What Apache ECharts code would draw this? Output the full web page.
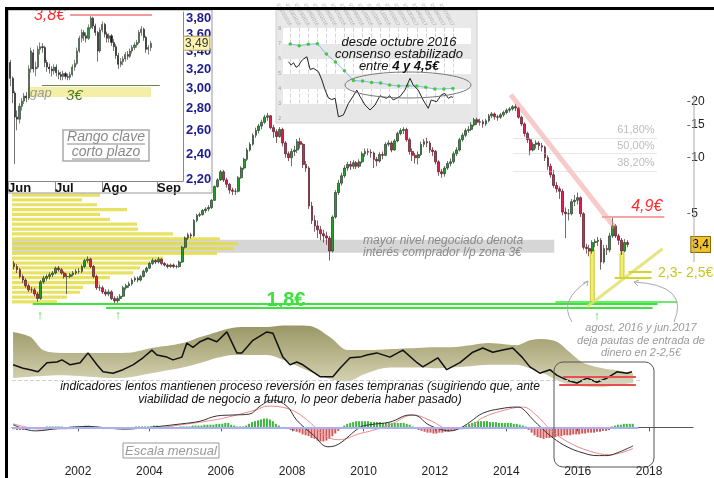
<!DOCTYPE html>
<html>
<head>
<meta charset="utf-8">
<title>Escala mensual</title>
<script src="https://cdn.jsdelivr.net/npm/echarts@6/dist/echarts.min.js"></script>
<style>
  html, body { margin: 0; padding: 0; background: #fff; }
  #chart { width: 714px; height: 478px; }
</style>
</head>
<body>
<div id="chart"></div>
<script>
// velas mensuales desde marzo 2000: [apertura, cierre, minimo, maximo]
const firstMonth = 2000 + 2 / 12
const monthly = [
  [2.70,2.60,2.50,2.80],[2.60,2.50,2.40,2.68],[2.50,2.30,2.25,2.55],[2.30,2.20,2.12,2.36],[2.20,2.05,2.00,2.25],
  [2.05,1.95,1.90,2.10],[1.95,1.95,1.88,2.02],[1.95,1.85,1.80,2.00],[1.85,1.75,1.68,1.90],[1.75,2.15,1.72,2.20],
  // 2001
  [2.15,2.25,2.10,2.32],[2.25,2.30,2.18,2.36],[2.30,2.35,2.22,2.42],[2.35,2.40,2.28,2.46],[2.40,2.55,2.36,2.60],[2.55,2.50,2.44,2.62],
  [2.50,2.40,2.35,2.55],[2.40,2.30,2.24,2.45],[2.30,2.30,1.85,2.38],[2.30,2.35,2.25,2.40],[2.35,2.40,2.30,2.46],[2.40,2.45,2.34,2.52],
  // 2002
  [2.45,2.45,2.38,2.55],[2.45,2.60,2.40,2.66],[2.60,2.80,2.55,2.86],[2.80,2.85,2.72,2.95],[2.85,2.60,2.55,2.90],[2.60,2.30,2.25,2.65],
  [2.30,2.00,1.95,2.35],[2.00,2.00,1.92,2.08],[2.00,1.90,1.85,2.05],[1.90,1.85,1.80,1.96],[1.85,1.90,1.80,1.96],[1.90,1.75,1.72,1.94],
  // 2003
  [1.75,1.70,1.62,1.80],[1.70,1.75,1.66,1.80],[1.75,1.80,1.70,1.85],[1.80,2.00,1.78,2.05],[2.00,2.05,1.95,2.10],[2.05,2.10,2.00,2.16],
  [2.10,2.20,2.05,2.25],[2.20,2.25,2.15,2.30],[2.25,2.20,2.14,2.30],[2.20,2.30,2.16,2.35],[2.30,2.45,2.27,2.50],[2.45,2.55,2.40,2.60],
  // 2004
  [2.55,2.70,2.52,2.76],[2.70,2.80,2.65,2.88],[2.80,2.75,2.68,2.85],[2.75,2.85,2.70,2.92],[2.85,2.70,2.64,2.88],[2.70,2.65,2.60,2.75],
  [2.65,2.60,2.54,2.70],[2.60,2.65,2.56,2.70],[2.65,2.60,2.55,2.70],[2.60,2.60,2.54,2.66],[2.60,2.75,2.56,2.80],[2.75,3.30,2.72,3.36],
  // 2005
  [3.30,3.70,3.25,3.78],[3.70,3.85,3.62,3.95],[3.85,3.80,3.68,3.95],[3.80,4.60,3.75,4.68],[4.60,4.90,4.50,5.00],[4.90,4.95,4.80,5.08],
  [4.95,5.20,4.88,5.30],[5.20,5.30,5.05,5.42],[5.30,5.40,5.15,5.55],[5.40,5.90,5.30,6.00],[5.90,7.00,5.85,7.10],[7.00,7.60,6.90,7.75],
  // 2006
  [7.60,8.40,7.50,8.60],[8.40,7.60,7.40,8.60],[7.60,7.20,6.90,7.80],[7.20,6.70,6.40,7.30],[6.70,6.60,6.30,6.90],[6.60,6.60,6.30,6.85],
  [6.60,7.80,6.50,7.95],[7.80,8.80,7.70,9.00],[8.80,9.80,8.60,10.0],[9.80,11.0,9.60,11.3],[11.0,11.8,10.8,12.1],[11.8,13.2,11.6,13.5],
  // 2007
  [13.2,14.0,12.8,14.5],[14.0,14.8,13.5,15.2],[14.8,15.5,14.2,16.0],[15.5,16.5,15.2,17.0],[16.5,16.8,15.8,17.4],[16.8,14.5,14.2,17.0],
  [14.5,13.8,12.8,15.0],[13.8,13.0,12.0,14.2],[13.0,14.2,12.8,14.6],[14.2,12.0,11.5,14.5],[12.0,10.5,10.0,12.3],[10.5,10.0,9.6,10.8],
  // 2008
  [10.0,10.8,9.0,11.2],[10.8,11.0,10.2,11.6],[11.0,12.2,10.6,12.6],[12.2,11.8,11.2,12.8],[11.8,9.2,8.8,12.0],[9.2,8.8,8.4,9.6],
  [8.8,5.5,5.3,9.0],[5.5,4.6,4.4,5.8],[4.6,4.3,4.0,4.9],[4.3,4.1,3.7,4.6],[4.1,3.9,3.6,4.3],[3.9,3.8,3.5,4.1],
  // 2009
  [3.8,3.7,3.4,4.0],[3.7,3.15,2.8,3.8],[3.15,4.8,3.1,4.9],[4.8,6.5,4.7,6.7],[6.5,7.3,6.3,7.6],[7.3,8.0,7.1,8.3],
  [8.0,8.8,7.8,9.1],[8.8,9.2,8.5,9.5],[9.2,9.0,8.6,9.6],[9.0,9.4,8.7,9.7],[9.4,9.0,8.7,9.6],[9.0,9.5,8.8,9.8],
  // 2010
  [9.5,10.5,9.3,10.8],[10.5,10.8,10.1,11.2],[10.8,10.7,10.3,11.2],[10.7,10.6,10.0,11.1],[10.6,9.8,8.8,10.8],[9.8,9.6,9.0,10.1],
  [9.6,10.4,9.4,10.7],[10.4,10.3,9.8,10.8],[10.3,11.8,10.2,12.1],[11.8,12.0,11.5,12.4],[12.0,11.0,10.7,12.3],[11.0,12.3,10.9,12.6],
  // 2011
  [12.3,13.5,12.1,13.8],[13.5,14.0,13.2,14.4],[14.0,14.2,13.4,14.6],[14.2,12.5,12.2,14.5],[12.5,10.8,10.4,12.8],[10.8,10.3,9.6,11.2],
  [10.3,10.0,9.3,10.6],[10.0,10.4,9.2,10.8],[10.4,11.8,10.2,12.2],[11.8,12.2,11.4,12.6],[12.2,12.0,11.4,12.8],[12.0,11.0,10.6,12.3],
  // 2012
  [11.0,10.8,10.2,11.4],[10.8,9.5,9.2,11.0],[9.5,8.4,8.0,9.7],[8.4,8.2,7.8,8.7],[8.2,8.8,7.9,9.0],[8.8,9.3,8.6,9.6],
  [9.3,9.5,9.0,9.9],[9.5,10.5,9.3,10.8],[10.5,11.0,10.2,11.4],[11.0,12.5,10.8,12.8],[12.5,13.2,12.2,13.6],[13.2,14.0,12.9,14.4],
  // 2013
  [14.0,14.2,13.6,14.8],[14.2,15.0,13.9,15.5],[15.0,16.0,14.7,16.4],[16.0,15.5,15.0,16.4],[15.5,15.6,14.9,16.2],[15.6,15.2,14.5,16.0],
  [15.2,15.8,14.8,16.2],[15.8,16.8,15.5,17.2],[16.8,17.2,16.3,17.6],[17.2,16.6,16.0,17.5],[16.6,16.5,15.8,17.0],[16.5,17.0,16.2,17.4],
  // 2014
  [17.0,17.5,16.6,17.9],[17.5,18.0,17.1,18.4],[18.0,18.3,17.5,18.7],[18.3,18.8,17.9,19.2],[18.8,18.5,17.8,19.4],[18.5,16.5,16.2,18.8],
  [16.5,15.2,14.8,16.8],[15.2,13.5,13.0,15.5],[13.5,12.5,12.0,13.8],[12.5,11.0,10.3,12.8],[11.0,11.8,10.8,12.1],[11.8,12.0,11.2,12.4],
  // 2015
  [12.0,11.6,11.0,12.3],[11.6,11.4,10.8,12.0],[11.4,10.0,9.6,11.6],[10.0,9.0,8.6,10.3],[9.0,8.1,7.8,9.3],[8.1,7.1,6.9,8.6],
  [7.1,6.8,6.5,7.4],[6.8,6.6,6.0,7.0],[6.6,5.1,4.9,6.8],[5.1,5.0,3.7,5.4],[5.0,5.0,4.6,5.3],[5.0,5.8,4.9,6.0],
  // 2016
  [5.8,5.9,5.5,6.3],[5.9,6.1,5.6,6.5],[6.1,5.0,4.8,6.2],[5.0,3.3,3.2,5.1],[3.3,3.25,3.05,3.45],[3.25,3.15,2.95,3.4],
  [3.15,3.5,3.05,3.6],[3.5,3.55,3.3,3.65],[3.55,3.6,3.35,3.75],[3.6,2.75,2.5,3.7],[2.75,3.25,2.7,3.4],[3.25,3.2,3.0,3.4],
  // 2017
  [3.2,3.8,3.1,3.95],[3.8,4.3,3.7,4.85],[4.3,3.8,3.7,4.4],[3.8,3.6,3.4,3.9],[3.6,3.15,3.0,3.7],[3.15,3.5,3.1,3.65],[3.5,3.42,3.3,3.6]
]

// perfil de volumen por niveles de precio (arriba -> abajo)
const profileLevels = ['6,3','5,95','5,6','5,25','4,94','4,7','4,4','4,15','3,9','3,67','3,45','3,28','3,08','2,9','2,73','2,57','2,42','2,27','2,14','2,03','1,9','1,79','1,68']
const profileVolume = [88,70,85,115,88,98,125,126,161,208,226,221,205,151,138,128,121,98,88,71,68,55,45]

// oscilador lento con bandas
const bandYears = [2000.18,2000.66,2001.02,2001.5,2002.0,2002.6,2003.1,2003.55,2004.05,2004.6,2005.0,2005.45,2005.9,2006.35,2006.8,2007.3,2007.75,2008.2,2008.6,2009.1,2009.55,2010.0,2010.55,2011.0,2011.5,2012.0,2012.45,2013.0,2013.5,2014.0,2014.3,2014.66,2015.0,2015.42,2015.75,2016.15,2016.7,2017.1,2017.55]
const bandUpper = [83,76,57,53,53,53,53,54,60,64,68,76,83,89,90,90,92,92,90,74,57,57,58,59,60,61,61,64,67,65,64,71,73,69,55,39,31,28,24]
const bandLower = [17,19,20,21,20,18,17,19,24,29,33,39,46,50,50,50,43,33,24,15,12,22,31,32,32,31,32,34,36,36,36,31,25,14,8,5,4,7,10]
const oscLine = [
  [2000.18,36],[2000.46,31],[2000.66,29],[2000.88,26],[2001.13,39],[2001.41,40],[2001.55,43],[2001.78,36],[2002.06,39],[2002.28,53],
  [2002.53,36],[2002.7,26],[2002.98,24],[2003.26,29],[2003.54,36],[2003.82,46],[2004.07,57],[2004.21,50],[2004.49,47],[2004.66,43],
  [2004.91,47],[2005.05,67],[2005.22,61],[2005.42,69],[2005.64,74],[2005.89,69],[2006.17,83],[2006.45,53],[2006.59,53],[2006.9,71],
  [2007.29,83],[2007.46,81],[2007.74,47],[2007.94,36],[2008.13,40],[2008.3,36],[2008.58,26],[2008.78,19],[2009.14,19],[2009.34,31],
  [2009.62,46],[2009.9,47],[2010.09,50],[2010.37,53],[2010.74,47],[2011.1,57],[2011.5,39],[2011.66,33],[2011.86,39],[2012.08,46],
  [2012.33,29],[2012.7,39],[2013.06,54],[2013.34,60],[2013.62,54],[2013.9,57],[2014.18,60],[2014.44,47],[2014.66,33],[2014.94,24],
  [2015.22,29],[2015.42,21],[2015.7,14],[2015.98,10],[2016.26,17],[2016.54,11],[2016.82,17],[2017.1,26],[2017.38,24],[2017.52,26]
]

// MACD mensual: histograma (desde marzo 2000), linea y señal
const macdHist = [
  -2,-3,-3,-3,-3,-2,-2,-2,-1,-1,
  0,1,1,1,1,1,1,0,0,1,1,1,
  1,1,2,2,1,0,-1,-1,-2,-2,-2,-2,
  -2,-2,-1,-1,-1,0,0,1,1,1,1,1,
  1,2,2,1,1,1,1,1,0,0,1,1,
  1,1,2,2,2,2,3,3,3,3,4,4,
  4,5,5,3,2,1,1,1,2,4,6,7,
  8,9,10,10,9,7,4,2,0,-1,-2,-3,
  -4,-5,-6,-8,-9,-10,-12,-13,-15,-16,-16,-15,
  -13,-10,-7,-4,-1,2,4,5,6,7,7,7,
  7,7,6,6,6,6,5,5,5,5,5,5,
  5,5,4,3,1,-1,-3,-4,-5,-6,-6,-7,
  -7,-6,-6,-5,-5,-4,-3,-2,-1,1,2,4,
  5,6,7,7,7,7,6,6,6,5,5,5,
  5,5,4,4,3,2,1,-3,-6,-9,-11,-12,
  -13,-12,-12,-11,-11,-10,-10,-9,-9,-9,-8,-8,
  -8,-7,-7,-6,-6,-6,-5,-5,-4,-4,-3,1,
  2,3,3,4,4,4,4
]
const macdLine = [
  [2000.18,3],[2000.8,-4],[2001.5,-1],[2002.3,1],[2002.9,-1],[2003.3,-2],[2004.0,0],[2004.9,4],[2005.42,7],[2005.9,13],
  [2006.34,14],[2006.8,15],[2007.1,24],[2007.45,31],[2007.85,24],[2008.13,8],[2008.6,-9],[2009.0,-22],[2009.3,-19],[2009.9,0],
  [2010.18,3],[2010.74,6],[2011.3,14],[2011.5,13],[2011.78,4],[2012.06,-1],[2012.42,-4],[2012.7,-1],[2012.98,6],[2013.34,16],
  [2013.82,21],[2014.3,23],[2014.46,21],[2014.74,9],[2015.02,-2],[2015.31,-12],[2015.7,-22],[2016.15,-29],[2016.54,-32],
  [2016.82,-32],[2017.1,-29],[2017.55,-21]
]
const signalLine = [
  [2000.18,4],[2001.0,-2],[2002.5,-1],[2004.0,-1],[2004.9,3],[2005.9,9],[2006.34,13],[2007.0,20],[2007.3,24],[2007.9,21],
  [2008.4,9],[2008.9,-9],[2009.3,-14],[2009.9,-7],[2010.2,-4],[2010.74,3],[2011.4,14],[2011.86,8],[2012.42,-2],[2012.9,-1],
  [2013.34,11],[2014.0,20],[2014.46,23],[2014.86,13],[2015.22,-2],[2015.7,-16],[2016.34,-27],[2016.9,-31],[2017.55,-24]
]

// recuadro corto plazo: velas diarias jun-ago (sesion 2 en adelante)
const insetDays = [
  [3.27,3.10,3.02,3.30],[3.10,2.95,2.85,3.12],[2.95,2.72,2.32,2.97],[2.72,2.70,2.60,2.78],[2.70,2.82,2.66,2.85],
  [2.82,2.87,2.78,2.90],[2.87,2.92,2.84,2.95],[2.92,2.90,2.86,2.96],[2.90,3.20,2.88,3.24],[3.20,3.40,3.16,3.44],
  [3.38,3.20,3.16,3.42],[3.20,3.22,3.12,3.28],[3.22,3.42,3.20,3.46],[3.42,3.45,3.36,3.50],[3.45,3.44,3.38,3.49],
  [3.44,3.27,3.22,3.46],[3.27,3.22,3.17,3.30],[3.22,3.20,3.15,3.26],[3.20,3.18,3.12,3.23],[3.18,3.22,3.14,3.25],
  [3.22,3.16,3.12,3.25],[3.16,3.14,3.09,3.19],[3.14,3.12,3.08,3.17],[3.12,3.15,3.08,3.18],[3.15,3.12,3.09,3.17],
  [3.12,3.11,3.08,3.15],[3.11,3.14,3.08,3.17],[3.14,3.22,3.12,3.25],[3.22,3.26,3.18,3.30],[3.26,3.40,3.24,3.44],
  [3.40,3.55,3.38,3.58],[3.55,3.62,3.50,3.66],[3.62,3.58,3.52,3.65],[3.58,3.55,3.50,3.62],[3.55,3.68,3.53,3.72],
  [3.68,3.80,3.66,3.84],[3.80,3.70,3.66,3.82],[3.70,3.62,3.58,3.73],[3.62,3.40,3.28,3.64],[3.40,3.65,3.38,3.68],
  [3.65,3.72,3.62,3.76],[3.72,3.60,3.56,3.74],[3.60,3.55,3.50,3.63],[3.55,3.58,3.50,3.61],[3.58,3.50,3.46,3.60],
  [3.50,3.45,3.40,3.54],[3.45,3.35,3.31,3.48],[3.35,3.25,3.20,3.38],[3.25,3.28,3.22,3.32],[3.28,3.31,3.24,3.34],
  [3.31,3.36,3.28,3.39],[3.36,3.34,3.30,3.40],[3.34,3.40,3.32,3.43],[3.40,3.44,3.37,3.47],[3.44,3.47,3.41,3.50],
  [3.47,3.50,3.44,3.53],[3.50,3.62,3.48,3.65],[3.62,3.66,3.58,3.70],[3.66,3.56,3.52,3.68],[3.56,3.42,3.38,3.58],
  [3.42,3.44,3.36,3.47],[3.44,3.49,3.40,3.52]
]

// recuadro consenso: precio objetivo mensual y cotizacion
const consensus = [7.0,6.89,6.98,7.02,6.33,5.8,5.22,4.56,4.53,4.44,4.4,4.27,4.2,4.22,4.2,4.11,4.0,4.0,4.04]
const trendLine = [
  [-0.19,5.82],[0.1,5.6],[0.37,5.75],[0.65,5.45],[0.92,5.55],[1.2,5.85],[1.47,6.0],[1.84,6.15],[2.2,5.3],[2.57,5.38],
  [3.12,5.16],[3.5,4.6],[3.86,3.93],[4.23,3.4],[4.6,3.3],[4.97,3.38],[5.33,2.15],[5.6,2.2],[5.88,2.27],[6.44,3.04],
  [6.99,3.55],[7.36,3.93],[7.73,3.49],[8.28,2.93],[8.83,2.6],[9.38,2.93],[9.93,3.55],[10.3,3.45],[10.67,3.38],[11.0,3.55],
  [11.4,3.27],[11.8,3.4],[12.14,3.49],[12.69,3.93],[13.25,4.71],[13.6,4.27],[14.16,3.93],[14.7,3.27],[15.27,2.71],[15.6,3.27],
  [16.2,3.15],[16.7,3.6],[17.1,3.71],[17.5,3.38],[17.8,3.49],[18.0,3.44]
]

const mainTicks = [5, 10, 15, 20]
const yearTicks = [2002, 2004, 2006, 2008, 2010, 2012, 2014, 2016, 2018]
const insetTicks = [2.2, 2.4, 2.6, 2.8, 3.0, 3.2, 3.4, 3.6, 3.8]
const monthTicks = [1, 21.4, 41.9, 65.8]
const monthNames = ['Jun', 'Jul', 'Ago', 'Sep']
const insetLast = 3.49

const F = '"Liberation Sans", Arial, sans-serif'
const X0 = 2000.15, X1 = 2019.23
const lg = v => Math.log10(v)
const comma = (v, d) => v.toFixed(d).replace('.', ',')

const candles = monthly.map((r, i) => [firstMonth + (i + 0.5) / 12].concat(r))
const histData = macdHist.map((v, i) => [firstMonth + (i + 0.5) / 12, v])
const insetCandles = insetDays.map((r, i) => [i + 2].concat(r))
const lastClose = monthly[monthly.length - 1][1]

function txt(x, y, text, font, fill, align) {
  return { type: 'text', x: x, y: y, z: 100, silent: true,
    style: { text: text, font: font + ' ' + F, fill: fill, textAlign: align || 'left', textVerticalAlign: 'middle' } }
}
function seg(x1, y1, x2, y2, stroke, w) {
  return { type: 'line', z: 100, silent: true, shape: { x1: x1, y1: y1, x2: x2, y2: y2 }, style: { stroke: stroke, lineWidth: w || 1 } }
}
function mline(x1, y1, x2, y2, style, label) {
  return [{ coord: [x1, y1], lineStyle: style, label: label || { show: false } }, { coord: [x2, y2] }]
}

const chart = echarts.init(document.getElementById('chart'))

const option = {
  animation: false,
  backgroundColor: '#fff',
  textStyle: { fontFamily: F },
  grid: [
    { left: 12, top: 94, width: 681, height: 217 },
    { left: 12, top: 192.6, width: 240, height: 111.8 },
    { left: 12, top: 320, width: 681, height: 70 },
    { left: 12, top: 400, width: 681, height: 68 },
    { left: 8, top: 12, width: 175, height: 169 },
    { left: 283, top: 27.5, width: 188, height: 94.5 }
  ],
  xAxis: [
    { gridIndex: 0, type: 'value', min: X0, max: X1, show: false },
    { gridIndex: 1, type: 'value', min: 0, max: 240, show: false },
    { gridIndex: 2, type: 'value', min: X0, max: X1, show: false },
    { gridIndex: 3, type: 'value', min: X0, max: X1,
      axisLine: { lineStyle: { color: '#555' } },
      axisTick: { customValues: yearTicks, length: 4, lineStyle: { color: '#555' } },
      axisLabel: { customValues: yearTicks, formatter: v => String(Math.round(v)), color: '#222', fontSize: 12, margin: 6 },
      splitLine: { show: false } },
    { gridIndex: 4, type: 'value', min: 1, max: 77.1,
      axisLine: { lineStyle: { color: '#888' } },
      axisTick: { customValues: monthTicks, length: 11, lineStyle: { color: '#888' } },
      axisLabel: { customValues: monthTicks, align: 'left', margin: 1, color: '#111', fontSize: 13, fontWeight: 'bold',
        formatter: v => monthNames[monthTicks.findIndex(t => Math.abs(t - v) < 0.5)] || '' },
      splitLine: { show: false } },
    { gridIndex: 5, type: 'value', min: -0.8, max: 20, show: false },
    { gridIndex: 5, type: 'value', position: 'top', min: -0.8, max: 20,
      axisLine: { show: false },
      axisTick: { show: false, customValues: consensus.map((v, i) => i) },
      axisLabel: { customValues: consensus.map((v, i) => i), rotate: 60, fontSize: 5, color: '#aaa', margin: 2,
        formatter: v => { const m = Math.round(v); return '01/' + String(m % 12 + 1).padStart(2, '0') + '/' + (2016 + Math.floor(m / 12)) } },
      splitLine: { show: true, lineStyle: { color: '#d4d4d4', type: 'dashed' } } }
  ],
  yAxis: [
    { gridIndex: 0, type: 'log', min: 1.5, max: 22, show: false },
    { gridIndex: 0, type: 'value', position: 'right', min: lg(1.5), max: lg(22),
      axisLine: { show: false }, splitLine: { show: false },
      axisTick: { show: true, customValues: mainTicks.map(lg), length: 3, lineStyle: { color: '#666' } },
      axisLabel: { customValues: mainTicks.map(lg), formatter: v => String(Math.round(Math.pow(10, v))), color: '#222', fontSize: 12, margin: 4 } },
    { gridIndex: 0, type: 'value', position: 'right', min: lg(1.5), max: lg(22),
      axisLine: { show: false }, axisTick: { show: false }, splitLine: { show: false },
      axisLabel: { customValues: [lg(lastClose)], formatter: () => comma(lastClose, 1), color: '#000', fontSize: 12, margin: 4,
        backgroundColor: '#f2c230', borderColor: '#8a6a00', borderWidth: 1, padding: [2, 1, 1, 1] } },
    { gridIndex: 1, type: 'category', data: profileLevels, inverse: true, show: false },
    { gridIndex: 2, type: 'value', min: 0, max: 100, show: false },
    { gridIndex: 3, type: 'value', min: -37, max: 31, show: false },
    { gridIndex: 4, type: 'log', min: 2.19, max: 3.88, show: false },
    { gridIndex: 4, type: 'value', position: 'right', min: lg(2.19), max: lg(3.88),
      axisLine: { show: true, lineStyle: { color: '#888' } }, axisTick: { show: false }, splitLine: { show: false },
      axisLabel: { customValues: insetTicks.map(lg), formatter: v => comma(Math.pow(10, v), 2),
        color: '#1c1c8e', fontSize: 13, fontWeight: 'bold', margin: 3 } },
    { gridIndex: 4, type: 'value', position: 'right', min: lg(2.19), max: lg(3.88),
      axisLine: { show: false }, axisTick: { show: false }, splitLine: { show: false },
      axisLabel: { customValues: [lg(insetLast)], formatter: () => comma(insetLast, 2), color: '#333', fontSize: 12, margin: 1,
        backgroundColor: '#fbf3b0', borderColor: '#b0a060', borderWidth: 1, padding: [1, 1, 0, 1] } },
    { gridIndex: 5, type: 'value', min: 1.8, max: 8.1,
      axisLine: { show: false }, axisTick: { show: false }, splitLine: { show: false },
      axisLabel: { customValues: [2, 3, 4, 5, 6, 7, 8], fontSize: 5, color: '#999', margin: 2 } }
  ],
  series: [
    // zona gris 3 euros
    { type: 'line', xAxisIndex: 0, yAxisIndex: 0, data: [], z: 0,
      markArea: { silent: true, itemStyle: { color: '#d6d6d6' },
        data: [[{ coord: [X0, 3.62] }, { coord: [2015.47, 3.08] }]] } },
    // perfil de volumen
    { type: 'bar', xAxisIndex: 1, yAxisIndex: 3, data: profileVolume, barWidth: 3.2, z: 2,
      itemStyle: { color: 'rgba(226,219,60,0.8)' } },
    // velas mensuales
    { type: 'candlestick', xAxisIndex: 0, yAxisIndex: 0, data: candles, encode: { x: 0, y: [1, 2, 3, 4] },
      barWidth: 2.3, z: 3,
      itemStyle: { color: '#1f9e2a', color0: '#e01f4c', borderColor: '#2c3a2c', borderColor0: '#4a1c24', borderWidth: 0.7 },
      markArea: { silent: true, data: [
        [{ coord: [2016.49, 3.2], itemStyle: { color: '#f2ee70', borderColor: '#c9c53a', borderWidth: 1 } }, { coord: [2016.6, 1.69] }],
        [{ coord: [2017.33, 3.08], itemStyle: { color: '#f2ee70', borderColor: '#c9c53a', borderWidth: 1 } }, { coord: [2017.44, 2.27] }]
      ] },
      markLine: { silent: true, symbol: ['none', 'none'], label: { show: false }, data: [
        mline(2000.74, 1.64, 2018.39, 1.64, { color: '#3de23d', width: 2, type: 'solid' }),
        mline(2002.81, 1.56, 2018.25, 1.56, { color: '#3de23d', width: 2, type: 'solid' }),
        mline(2015.5, 1.68, 2018.95, 1.68, { color: '#3de23d', width: 1.5, type: 'solid' }),
        mline(2014.24, 21.8, 2017.18, 4.21, { color: 'rgba(240,140,140,0.45)', width: 5, type: 'solid' }),
        mline(2014.32, 12.8, 2018.36, 12.8, { color: '#cfcfcf', width: 1, type: 'dotted' },
          { show: true, position: 'insideEndTop', formatter: '61,80%', color: '#bdbdbd', fontSize: 11, distance: 2 }),
        mline(2014.32, 10.6, 2018.36, 10.6, { color: '#cfcfcf', width: 1, type: 'dotted' },
          { show: true, position: 'insideEndTop', formatter: '50,00%', color: '#bdbdbd', fontSize: 11, distance: 2 }),
        mline(2014.32, 8.5, 2018.36, 8.5, { color: '#cfcfcf', width: 1, type: 'dotted' },
          { show: true, position: 'insideEndTop', formatter: '38,20%', color: '#bdbdbd', fontSize: 11, distance: 2 }),
        mline(2016.82, 4.82, 2018.58, 4.82, { color: '#f5a3a3', width: 2, type: 'solid' },
          { show: true, position: 'insideEndTop', formatter: '4,9€', color: '#ff2a2a', fontSize: 16, fontStyle: 'italic', distance: 2 }),
        mline(2016.4, 1.58, 2018.53, 3.24, { color: 'rgba(226,224,110,0.85)', width: 3, type: 'solid' }),
        mline(2017.18, 2.26, 2018.22, 2.26, { color: '#d6d42c', width: 2, type: 'solid' }),
        mline(2017.57, 2.44, 2018.22, 2.44, { color: '#d6d42c', width: 2, type: 'solid' })
      ] } },
    // oscilador: banda superior rellena y banda inferior en blanco encima
    { type: 'line', xAxisIndex: 2, yAxisIndex: 4, symbol: 'none', z: 1, smooth: 0.3,
      data: bandYears.map((y, i) => [y, bandUpper[i]]), lineStyle: { width: 0, opacity: 0 },
      areaStyle: { opacity: 1, origin: 'start', color: { type: 'linear', x: 0, y: 0, x2: 0, y2: 1,
        colorStops: [{ offset: 0, color: '#9a9766' }, { offset: 0.7, color: '#c9c6a2' }, { offset: 1, color: '#dddbc4' }] } } },
    { type: 'line', xAxisIndex: 2, yAxisIndex: 4, symbol: 'none', z: 2, smooth: 0.3,
      data: bandYears.map((y, i) => [y, bandLower[i]]), lineStyle: { width: 0, opacity: 0 },
      areaStyle: { opacity: 1, origin: 'start', color: '#ffffff' } },
    { type: 'line', xAxisIndex: 2, yAxisIndex: 4, data: oscLine, symbol: 'none', z: 3,
      lineStyle: { color: '#111', width: 1.5 },
      markLine: { silent: true, symbol: ['none', 'none'], label: { show: false }, data: [
        mline(X0, 14.3, 2017.8, 14.3, { color: '#cfcfcf', width: 1, type: 'dashed' }),
        mline(2015.59, 18.6, 2017.63, 18.6, { color: '#e65050', width: 2, type: 'solid' }),
        mline(2015.48, 7.1, 2017.63, 7.1, { color: '#e65050', width: 2, type: 'solid' })
      ] } },
    // MACD
    { type: 'bar', xAxisIndex: 3, yAxisIndex: 5, data: histData, barWidth: 2, z: 2,
      itemStyle: { color: p => p.value[1] >= 0 ? '#3cb83c' : '#d65656' },
      markLine: { silent: true, symbol: ['none', 'none'], label: { show: false }, data: [
        mline(X0, 0, 2017.7, 0, { color: '#aab0f2', width: 2, type: 'solid' })
      ] } },
    { type: 'line', xAxisIndex: 3, yAxisIndex: 5, data: signalLine, symbol: 'none', smooth: 0.4, z: 3,
      lineStyle: { color: '#f08a8a', width: 1 } },
    { type: 'line', xAxisIndex: 3, yAxisIndex: 5, data: macdLine, symbol: 'none', smooth: 0.4, z: 4,
      lineStyle: { color: '#333', width: 1 } },
    // recuadro velas diarias
    { type: 'candlestick', xAxisIndex: 4, yAxisIndex: 6, data: insetCandles, encode: { x: 0, y: [1, 2, 3, 4] },
      barWidth: 1.6, z: 3,
      itemStyle: { color: '#2a9a3a', color0: '#1a1a1a', borderColor: '#333', borderColor0: '#1a1a1a', borderWidth: 0.6 },
      markArea: { silent: true, itemStyle: { color: '#f3efa6' },
        data: [[{ coord: [9.7, 3.01] }, { coord: [63.2, 2.91] }]] },
      markLine: { silent: true, symbol: ['none', 'none'], label: { show: false }, data: [
        mline(28, 3.84, 63.6, 3.84, { color: '#f59a9a', width: 2, type: 'solid' },
          { show: true, position: 'start', formatter: '3,8€', color: '#ff2d2d', fontSize: 16, fontStyle: 'italic', distance: 5 }),
        mline(15.8, 3.03, 67, 3.03, { color: '#6f7f5f', width: 1, type: 'solid' })
      ] } },
    // recuadro consenso
    { type: 'line', xAxisIndex: 5, yAxisIndex: 9, data: consensus.map((v, i) => [i, v]), z: 3,
      symbol: 'circle', symbolSize: 3.5, itemStyle: { color: '#3ccc3c' }, lineStyle: { color: '#8ab4ea', width: 1 },
      markArea: { silent: true, itemStyle: { color: '#e7e7e7' }, data: [
        [{ coord: [-0.8, 7] }, { coord: [20, 6] }],
        [{ coord: [-0.8, 5] }, { coord: [20, 4] }],
        [{ coord: [-0.8, 3] }, { coord: [20, 1.8] }]
      ] } },
    { type: 'line', xAxisIndex: 5, yAxisIndex: 9, data: trendLine, symbol: 'none', z: 4,
      lineStyle: { color: '#222', width: 1 } }
  ],
  graphic: [
    // recuadro consenso (fondo)
    { type: 'rect', z: 0, silent: true, shape: { x: 276, y: 10, width: 201, height: 113 }, style: { fill: '#e9e9e9', stroke: '#d0d0d0' } },
    { type: 'rect', z: 0, silent: true, shape: { x: 283, y: 28, width: 188, height: 94 }, style: { fill: '#fff' } },
    { type: 'ellipse', z: 100, silent: true, shape: { cx: 408, cy: 85, rx: 63, ry: 13 }, style: { fill: 'none', stroke: '#777', lineWidth: 1 } },
    txt(399, 42, 'desde octubre 2016', 'italic 13px', '#111', 'center'),
    txt(399, 54, 'consenso estabilizado', 'italic 13px', '#111', 'center'),
    { type: 'text', x: 399, y: 66, z: 100, silent: true,
      style: { text: '{n|entre }{b|4 y 4,5€}', textAlign: 'center', textVerticalAlign: 'middle',
        rich: { n: { font: 'italic 13px ' + F, fill: '#111' }, b: { font: 'italic bold 13px ' + F, fill: '#111' } } } },
    // recuadro corto plazo
    { type: 'rect', z: 50, silent: true, shape: { x: 8, y: 10, width: 204, height: 183 }, style: { fill: 'none', stroke: '#999', lineWidth: 1 } },
    { type: 'rect', z: 100, silent: true, shape: { x: 63, y: 130, width: 86, height: 31 }, style: { fill: '#fff', stroke: '#aaa', lineWidth: 1.5 } },
    txt(106, 137, 'Rango clave', 'italic 14px', '#8a8a8a', 'center'),
    txt(106, 152, 'corto plazo', 'italic 14px', '#8a8a8a', 'center'),
    seg(67, 144, 145, 144, '#8a8a8a'),
    seg(72, 159, 140, 159, '#8a8a8a'),
    txt(30, 93, 'gap', 'italic 13px', '#999', 'left'),
    txt(66, 96, '3€', 'italic 15px', '#4f7a28', 'left'),
    // textos principales
    txt(363, 241, 'mayor nivel negociado denota', 'italic 12px', '#8a8a8a', 'left'),
    txt(363, 253, 'interés comprador l/p zona 3€', 'italic 12px', '#8a8a8a', 'left'),
    txt(286, 300, '1,8€', 'bold 20px', '#3ee03e', 'center'),
    txt(40, 315, '↑', '13px', '#44dd44', 'center'),
    txt(118, 315, '↑', '13px', '#44dd44', 'center'),
    txt(597, 316, '↑', '13px', '#44dd44', 'center'),
    txt(658, 273, '2,3- 2,5€', '14px', '#c8c61e', 'left'),
    txt(641, 328, 'agost. 2016 y jun.2017', 'italic 11px', '#9a9a9a', 'center'),
    txt(641, 341, 'deja pautas de entrada de', 'italic 11px', '#9a9a9a', 'center'),
    txt(641, 353, 'dinero en 2-2,5€', 'italic 11px', '#9a9a9a', 'center'),
    { type: 'bezierCurve', z: 100, silent: true, shape: { x1: 572, y1: 322, x2: 588, y2: 281, cpx1: 558, cpy1: 300 }, style: { stroke: '#aaa', fill: 'none', lineWidth: 1 } },
    { type: 'polyline', z: 100, silent: true, shape: { points: [[583, 283], [588, 281], [587, 286]] }, style: { stroke: '#aaa', fill: 'none' } },
    { type: 'bezierCurve', z: 100, silent: true, shape: { x1: 674, y1: 322, x2: 634, y2: 282, cpx1: 690, cpy1: 285 }, style: { stroke: '#aaa', fill: 'none', lineWidth: 1 } },
    { type: 'polyline', z: 100, silent: true, shape: { points: [[639, 280], [634, 282], [638, 286]] }, style: { stroke: '#aaa', fill: 'none' } },
    seg(694, 95, 694, 262, '#aaa'),
    // indicadores
    txt(300, 387, 'indicadores lentos mantienen proceso reversión en fases tempranas (sugiriendo que, ante', 'italic 12px', '#111', 'center'),
    txt(300, 400, 'viabilidad de negocio a futuro, lo peor deberia haber pasado)', 'italic 12px', '#111', 'center'),
    { type: 'rect', z: 100, silent: true, shape: { x: 554, y: 362, width: 100, height: 105, r: 9 }, style: { fill: 'none', stroke: '#555', lineWidth: 1 } },
    { type: 'rect', z: 100, silent: true, shape: { x: 123, y: 443, width: 96, height: 15 }, style: { fill: '#fff', stroke: '#999', lineWidth: 1 } },
    txt(171, 451, 'Escala mensual', 'italic 13px', '#999', 'center'),
    // marco
    { type: 'rect', z: 120, silent: true, shape: { x: 5, y: 7, width: 709, height: 3 }, style: { fill: '#000' } },
    { type: 'rect', z: 120, silent: true, shape: { x: 5, y: 7, width: 3, height: 471 }, style: { fill: '#000' } }
  ]
}

chart.setOption(option)
</script>
</body>
</html>
